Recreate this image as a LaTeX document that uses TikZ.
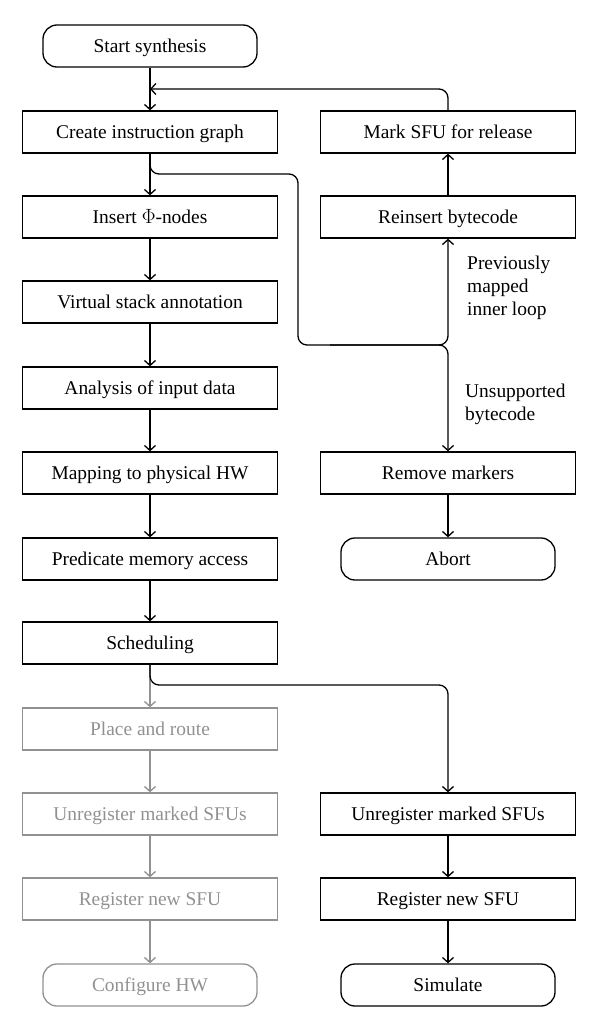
\documentclass[tikz,border=0pt]{standalone}
\usepackage{fontspec}
\setmainfont{Liberation Serif}
\usetikzlibrary{arrows.meta}
\begin{document}
\begin{tikzpicture}[x=1bp,y=-1bp,
  box/.style={draw, line width=1.3bp, minimum width=255bp, minimum height=42bp, inner sep=0pt, text height=14bp, text depth=1bp, font=\fontsize{19.5}{22}\selectfont},
  term/.style={box, minimum width=214bp, rounded corners=14bp},
  gbox/.style={box, draw=grey, text=grey},
  gterm/.style={term, draw=grey, text=grey},
  arr/.style={line width=1.3bp, -{Straight Barb[length=5bp,width=11bp,line width=1.3bp]}},
  garr/.style={arr, draw=grey},
  lbl/.style={align=left, anchor=north west, inner sep=0pt, font=\fontsize{19.5}{23}\selectfont}
]
\definecolor{grey}{RGB}{145,145,145}
\useasboundingbox (0,0) rectangle (600,1030);
% left column
\node[term] (start) at (150,46) {Start synthesis};
\node[box] (create) at (150,132) {Create instruction graph};
\node[box] (insert) at (150,217) {Insert $\Phi$-nodes};
\node[box] (vstack) at (150,302) {Virtual stack annotation};
\node[box] (analysis) at (150,388) {Analysis of input data};
\node[box] (mapping) at (150,473) {Mapping to physical HW};
\node[box] (pred) at (150,559) {Predicate memory access};
\node[box] (sched) at (150,643) {Scheduling};
\node[gbox] (place) at (150,729) {Place and route};
\node[gbox] (unregL) at (150,814) {Unregister marked SFUs};
\node[gbox] (regL) at (150,899) {Register new SFU};
\node[gterm] (config) at (150,985) {Configure HW};
% right column
\node[box] (mark) at (448,132) {Mark SFU for release};
\node[box] (reins) at (448,217) {Reinsert bytecode};
\node[box] (remove) at (448,473) {Remove markers};
\node[term] (abort) at (448,559) {Abort};
\node[box] (unregR) at (448,814) {Unregister marked SFUs};
\node[box] (regR) at (448,899) {Register new SFU};
\node[term] (sim) at (448,985) {Simulate};
% labels
\node[lbl] (l1) at (467,256) {Previously\\mapped\\inner loop};
\node[lbl] (l2) at (465,384) {Unsupported\\bytecode};
% coordinates
\coordinate (mj) at (150,89);
\coordinate (b1) at (150,174);
\coordinate (b2) at (298,174);
\coordinate (b3) at (298,345);
\coordinate (b3a) at (330,345);
\coordinate (b4) at (448,345);
\coordinate (s1) at (150,685);
\coordinate (s2) at (448,685);
% connectors
\draw[arr] (start) -- (create);
\draw[arr, rounded corners=9bp] (mark.north) |- (mj);
\draw[arr] (create) -- (insert);
\draw[line width=1.3bp, rounded corners=9bp] (create.south) -- (b1) -- (b2) -- (b3) -- (b3a);
\draw[arr, rounded corners=9bp] (b3a) -- (b4) -- (reins.south);
\draw[arr, rounded corners=9bp] (b3a) -- (b4) -- (remove.north);
\draw[arr] (reins) -- (mark);
\draw[arr] (insert) -- (vstack);
\draw[arr] (vstack) -- (analysis);
\draw[arr] (analysis) -- (mapping);
\draw[arr] (mapping) -- (pred);
\draw[arr] (pred) -- (sched);
\draw[arr] (remove) -- (abort);
\draw[garr] (sched) -- (place);
\draw[garr] (place) -- (unregL);
\draw[garr] (unregL) -- (regL);
\draw[garr] (regL) -- (config);
\draw[arr, rounded corners=9bp] (sched.south) -- (s1) -- (s2) -- (unregR.north);
\draw[arr] (unregR) -- (regR);
\draw[arr] (regR) -- (sim);
\end{tikzpicture}
\end{document}
